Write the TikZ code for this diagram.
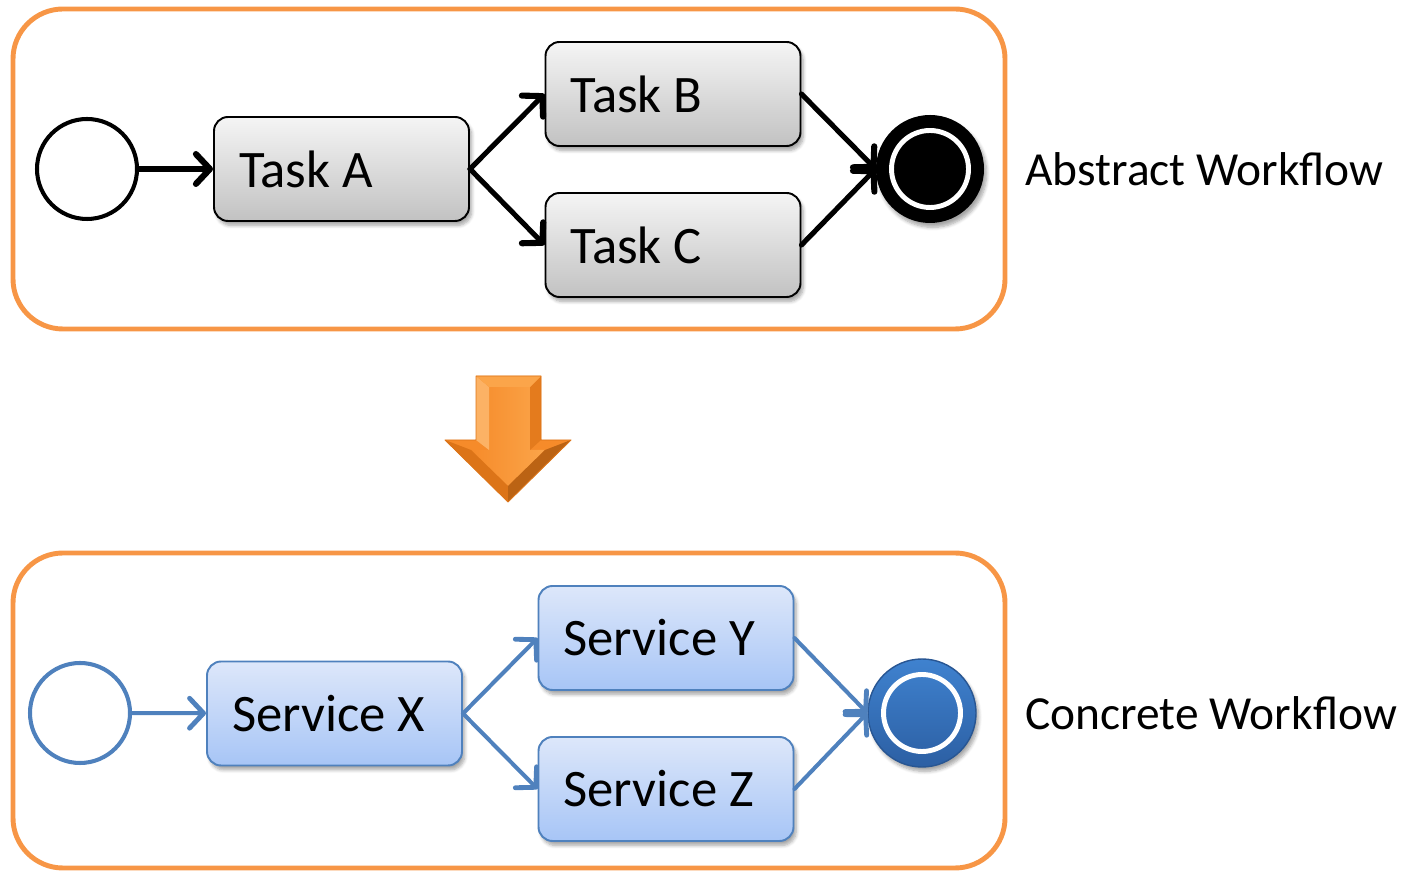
\documentclass[tikz,border=0pt]{standalone}
\usepackage{fontspec}
\setmainfont{Carlito}
\usetikzlibrary{arrows.meta,shadows.blur,positioning}

\definecolor{frameorange}{HTML}{F79646}
\definecolor{srvline}{HTML}{4F81BD}
\definecolor{srvtop}{HTML}{DDE7FA}
\definecolor{srvbot}{HTML}{A7C5F6}
\definecolor{endtop}{HTML}{3F82CF}
\definecolor{endbot}{HTML}{2C5FA3}
\definecolor{arrlight}{HTML}{FBA54A}
\definecolor{arrmid}{HTML}{F68B2A}
\definecolor{arrdark}{HTML}{DC7418}

\tikzset{
  frame/.style={draw=frameorange, line width=2.8pt, rounded corners=1cm},
  task/.style={draw=black, line width=1.1pt, rounded corners=8pt,
    minimum height=2.08cm, text width=4.1cm, inner xsep=0.5cm, align=left,
    execute at begin node={\spaceskip=0pt\xspaceskip=0pt},
    top color=gray!8, bottom color=gray!48,
    font=\fontsize{30}{34}\selectfont,
    blur shadow={shadow xshift=1.5pt, shadow yshift=-2.5pt, shadow blur steps=6, shadow opacity=35}},
  service/.style={task, draw=srvline, top color=srvtop, bottom color=srvbot},
  start/.style={circle, draw=black, line width=2.3pt, fill=white, minimum size=2cm, inner sep=0pt},
  finish/.style={circle, fill=black, minimum size=2.16cm, inner sep=0pt,
    blur shadow={shadow xshift=1.5pt, shadow yshift=-2.5pt, shadow blur steps=6, shadow opacity=35},
    path picture={\draw[white, line width=2.8pt] (path picture bounding box.center) circle (0.77cm);}},
  flow/.style={line width=2.9pt, line cap=round,
    -{Straight Barb[length=8pt, width=17pt, line width=0pt 1.2, round]}},
  sflow/.style={flow, draw=srvline, line width=2.3pt},
  side/.style={anchor=west, inner sep=0pt, font=\fontsize{27}{30}\selectfont}
}

\begin{document}
\begin{tikzpicture}
  \useasboundingbox (0,0) rectangle (28.24,17.44);

  % frames
  \draw[frame] (0.26,10.86) rectangle (20.1,17.26);
  \draw[frame] (0.26,0.08) rectangle (20.1,6.38);

  % abstract workflow
  \node[start] (s1) at (1.74,14.06) {};
  \node[task] (ta) at (6.83,14.06) {Task A};
  \node[task] (tb) at (13.46,15.56) {Task B};
  \node[task] (tc) at (13.46,12.54) {Task C};
  \node[finish] (e1) at (18.6,14.06) {};

  \draw[flow] (s1) -- (ta);
  \foreach \s/\t in {ta/tb,ta/tc,tb/e1,tc/e1} {\draw[flow] (\s.east) -- (\t.west);}

  \node[side] (abs) at (20.5,14.06) {Abstract Workflow};

  % refinement arrow
  \coordinate (tip) at (10.16,7.4);
  \fill[arrmid]
    (9.52,9.92) -- (10.82,9.92) -- (10.82,8.64) -- (11.42,8.64) -- (tip)
    -- (8.9,8.64) -- (9.52,8.64) -- cycle;
  \shade[left color=arrmid, right color=arrlight]
    (9.78,9.7) -- (10.6,9.7) -- (10.6,8.44) -- (10.9,8.44) -- (10.16,7.72)
    -- (9.42,8.44) -- (9.78,8.44) -- cycle;
  \fill[arrlight!85!white] (9.52,9.92) -- (9.78,9.7) -- (9.78,8.44) -- (9.52,8.64) -- cycle;
  \fill[arrdark!70!arrmid] (10.82,9.92) -- (10.6,9.7) -- (10.6,8.44) -- (10.82,8.64) -- cycle;
  \fill[arrdark] (8.9,8.64) -- (9.42,8.44) -- (10.16,7.72) -- (tip) -- cycle;
  \fill[arrdark!85!black] (11.42,8.64) -- (10.9,8.44) -- (10.16,7.72) -- (tip) -- cycle;
  \fill[arrlight] (9.52,9.92) -- (10.82,9.92) -- (10.6,9.7) -- (9.78,9.7) -- cycle;
  \draw[arrdark, line width=0.5pt, line join=round]
    (9.52,9.92) -- (10.82,9.92) -- (10.82,8.64) -- (11.42,8.64) -- (tip)
    -- (8.9,8.64) -- (9.52,8.64) -- cycle;

  % concrete workflow
  \node[start, draw=srvline] (s2) at (1.6,3.18) {};
  \node[service] (sx) at (6.69,3.17) {Service X};
  \node[service] (sy) at (13.32,4.68) {Service Y};
  \node[service] (sz) at (13.32,1.66) {Service Z};
  \node[finish, top color=endtop, bottom color=endbot, draw=endbot!90!black, line width=0.8pt] (e2) at (18.44,3.18) {};

  \draw[sflow] (s2) -- (sx);
  \foreach \s/\t in {sx/sy,sx/sz,sy/e2,sz/e2} {\draw[sflow] (\s.east) -- (\t.west);}

  \node[side] (con) at (20.5,3.18) {Concrete Workflow};
\end{tikzpicture}
\end{document}
